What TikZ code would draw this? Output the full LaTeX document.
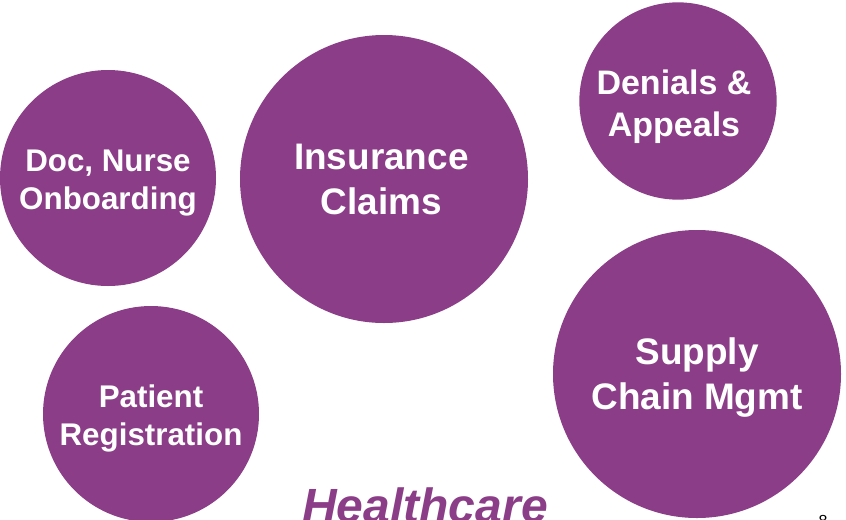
\documentclass[tikz,border=0pt]{standalone}
\usepackage{fontspec}
\setmainfont{Liberation Sans}
\definecolor{bubble}{RGB}{139,61,135}
\tikzset{every picture/.style={line width=0.75pt}}
\tikzset{
  bubble/.style={circle,fill=bubble,draw=none,inner sep=0pt},
  bubbletext/.style={text=white,align=center,inner sep=0pt},
}

\begin{document}
\begin{tikzpicture}[x=0.75pt,y=0.75pt,yscale=-1,xscale=1]
\clip (0,0) rectangle (846,519);
\useasboundingbox (0,0) rectangle (846,519);

% Circles
\node [bubble,minimum size=162pt] (onboard) at (108,178) {};
\node [bubble,minimum size=216pt] (claims) at (384,179) {};
\node [bubble,minimum size=148pt] (denials) at (678,101) {};
\node [bubble,minimum size=216pt] (supply) at (697,374) {};
\node [bubble,minimum size=162pt] (patient) at (151,414) {};

% Circle texts
\node [bubbletext,font=\bfseries\fontsize{23.5}{28.5}\selectfont] (onboardtext) at ([yshift=3.8pt]onboard.center) {Doc, Nurse\\Onboarding};
\node [bubbletext,font=\bfseries\fontsize{27.7}{33.5}\selectfont] (claimstext) at ([xshift=-2pt,yshift=0.5pt]claims.center) {Insurance\\Claims};
\node [bubbletext,font=\bfseries\fontsize{25.5}{31.5}\selectfont] (denialstext) at ([xshift=-3pt,yshift=4.5pt]denials.center) {Denials \&\\Appeals};
\node [bubbletext,font=\bfseries\fontsize{27.7}{33.5}\selectfont] (supplytext) at ([yshift=2.5pt]supply.center) {Supply\\Chain Mgmt};
\node [bubbletext,font=\bfseries\fontsize{23.5}{28.5}\selectfont] (patienttext) at ([yshift=3pt]patient.center) {Patient\\Registration};

% Text Node
\node [anchor=base,inner sep=0pt,text=bubble,font=\bfseries\itshape\fontsize{36}{40}\selectfont] (title) at (425,522) {Healthcare};
% Text Node
\node [anchor=base,inner sep=0pt,font=\fontsize{12}{14}\selectfont] (page) at (823,526) {8};
\end{tikzpicture}
\end{document}
